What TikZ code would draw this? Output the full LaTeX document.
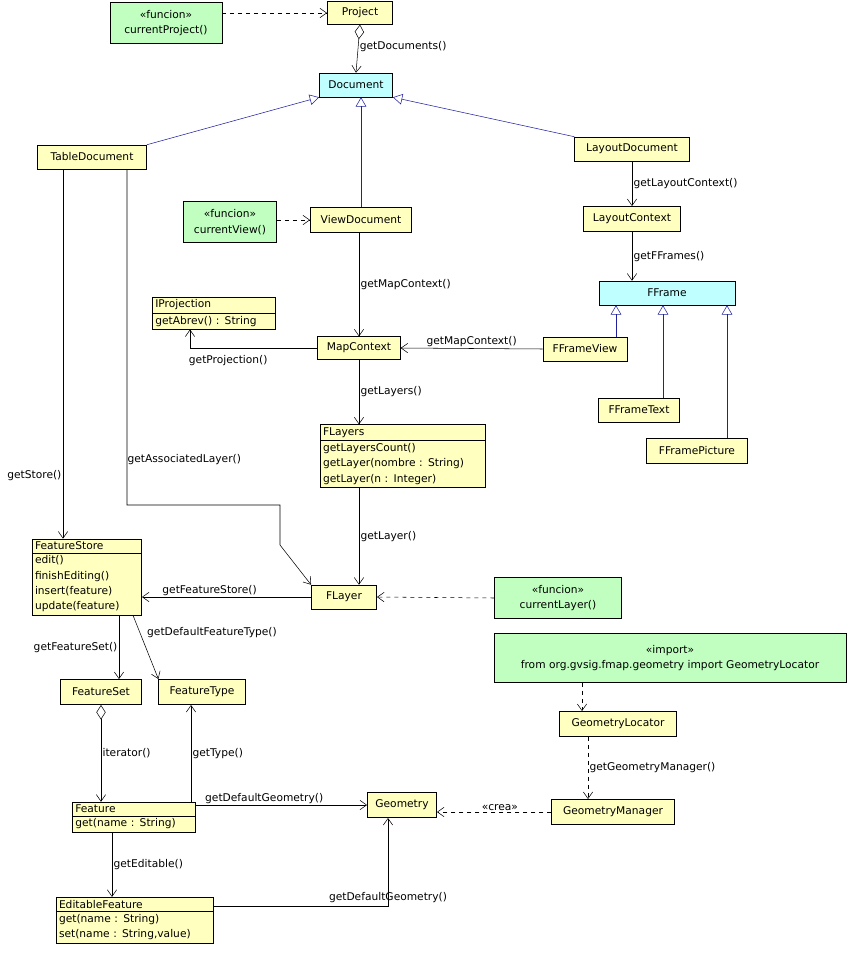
\documentclass[tikz,border=0pt]{standalone}
\usepackage{fontspec}
\setmainfont{DejaVu Sans}
\usetikzlibrary{arrows.meta, positioning, shapes.multipart}
\definecolor{clsyellow}{HTML}{FFFFC0}
\definecolor{fngreen}{HTML}{C0FFC0}
\definecolor{ifcyan}{HTML}{C0FFFF}
\definecolor{genblue}{HTML}{2020A0}

\begin{document}
\begin{tikzpicture}[
        x=0.75pt, y=-0.75pt,
        font=\fontsize{8}{11.5}\selectfont,
        cls/.style={
            rectangle,
            draw=black,
            fill=clsyellow,
            inner sep=2pt,
            align=center
        },
        iface/.style={cls, fill=ifcyan},
        func/.style={cls, fill=fngreen},
        multi/.style={
            cls,
            rectangle split,
            rectangle split parts=2,
            rectangle split part align={center,left},
            align=left
        },
        assoc/.style={-{Straight Barb[length=5pt,width=7pt]}},
        dep/.style={assoc, dashed},
        gen/.style={-{Triangle[open,length=7pt,width=8pt]}, draw=genblue},
        lbl/.style={fill=none, inner sep=1pt}
    ]

    \useasboundingbox (0,0) rectangle (850,956);

    % classes and functions
    \node (funcProject) [func, minimum width=84pt, minimum height=31pt] at (166,23) {<<funcion>>\\currentProject()};
    \node (project) [cls, minimum width=49pt, minimum height=17pt] at (360,13) {Project};
    \node (document) [iface, minimum width=55pt, minimum height=18pt] at (356,85) {Document};
    \node (tableDoc) [cls, minimum width=82pt, minimum height=18pt] at (92,157) {TableDocument};
    \node (layoutDoc) [cls, minimum width=86pt, minimum height=18pt] at (632,149) {LayoutDocument};
    \node (funcView) [func, minimum width=70pt, minimum height=31pt] at (230,222) {<<funcion>>\\currentView()};
    \node (viewDoc) [cls, minimum width=76pt, minimum height=19pt] at (361,220) {ViewDocument};
    \node (layoutCtx) [cls, minimum width=73pt, minimum height=19pt] at (632,219) {LayoutContext};
    \node (fframe) [iface, minimum width=102pt, minimum height=18pt] at (667,293) {FFrame};
    \node (iprojection) [multi, text width=88pt] at (214,313) {IProjection\nodepart{second}getAbrev() : String};
    \node (mapCtx) [cls, minimum width=62pt, minimum height=17pt] at (359,348) {MapContext};
    \node (fframeView) [cls, minimum width=63pt, minimum height=18pt] at (585,349) {FFrameView};
    \node (fframeText) [cls, minimum width=61pt, minimum height=18pt] at (639,410) {FFrameText};
    \node (fframePic) [cls, minimum width=76pt, minimum height=19pt] at (697,451) {FFramePicture};
    \node (flayers) [multi, text width=120pt] at (403,456) {FLayers\nodepart{second}getLayersCount()\\getLayer(nombre : String)\\getLayer(n : Integer)};
    \node (featureStore) [multi, text width=78pt] at (87,577) {FeatureStore\nodepart{second}edit()\\finishEditing()\\insert(feature)\\update(feature)};
    \node (flayer) [cls, minimum width=49pt, minimum height=18pt] at (344,597) {FLayer};
    \node (funcLayer) [func, minimum width=95pt, minimum height=31pt] at (558,598) {<<funcion>>\\currentLayer()};
    \node (importGeom) [func, minimum width=264pt, minimum height=37pt] at (670,658) {<<import>>\\from org.gvsig.fmap.geometry import GeometryLocator};
    \node (featureSet) [cls, minimum width=61pt, minimum height=19pt] at (101,692) {FeatureSet};
    \node (featureType) [cls, minimum width=65pt, minimum height=19pt] at (202,692) {FeatureType};
    \node (geomLocator) [cls, minimum width=88pt, minimum height=19pt] at (618,724) {GeometryLocator};
    \node (feature) [multi, text width=88pt] at (134,817) {Feature\nodepart{second}get(name : String)};
    \node (geometry) [cls, minimum width=52pt, minimum height=19pt] at (402,805) {Geometry};
    \node (geomManager) [cls, minimum width=92pt, minimum height=19pt] at (613,812) {GeometryManager};
    \node (editFeature) [multi, text width=114pt] at (135,920) {EditableFeature\nodepart{second}get(name : String)\\set(name : String,value)};

    % generalizations
    \draw [gen] (tableDoc.north east) -- (document.south west);
    \draw [gen] (viewDoc.north) -- (viewDoc.north |- document.south);
    \draw [gen] (layoutDoc.north west) -- (document.south east);
    \draw [gen] (fframeView.north -| 616,0) -- (fframe.south -| 616,0);
    \draw [gen] (fframeText.north -| 663,0) -- (fframe.south -| 663,0);
    \draw [gen] (fframePic.north -| 727,0) -- (fframe.south -| 727,0);

    % dependencies
    \draw [dep] (funcProject.east |- project) -- (project.west);
    \draw [dep] (funcView.east |- viewDoc) -- (viewDoc.west);
    \draw [dep] (funcLayer.west) -- (flayer.east);
    \draw [dep] (importGeom.south -| 582,0) -- (geomLocator.north -| 582,0);
    \draw [dep] (geomLocator.south -| 588,0) -- node[right, lbl] {getGeometryManager()} (geomManager.north -| 588,0);
    \draw [dep] (geomManager.west) -- node[above, lbl, pos=0.45] {<<crea>>} (geometry.east |- geomManager.west);

    % associations
    \draw [{Diamond[open,length=11pt,width=7pt]}-{Straight Barb[length=5pt,width=7pt]}] (project.south) -- node[right, lbl, pos=0.45] {getDocuments()} (document.north);
    \draw [assoc] (layoutDoc.south) -- node[right, lbl] {getLayoutContext()} (layoutCtx.north);
    \draw [assoc] (layoutCtx.south) -- node[right, lbl] {getFFrames()} (layoutCtx.south |- fframe.north);
    \draw [assoc] (viewDoc.south -| mapCtx.north) -- node[right, lbl] {getMapContext()} (mapCtx.north);
    \draw [assoc] (fframeView.west) -- node[above, lbl] {getMapContext()} (mapCtx.east);
    \draw [assoc] (mapCtx.west) -| node[below, lbl, pos=0.35, yshift=-4pt] {getProjection()} (iprojection.south -| 190,0);
    \draw [assoc] (mapCtx.south) -- node[right, lbl] {getLayers()} (mapCtx.south |- flayers.north);
    \draw [assoc] (flayers.south -| mapCtx.south) -- node[right, lbl] {getLayer()} (flayer.north -| mapCtx.south);
    \draw [assoc] (tableDoc.south -| 63,0) -- node[left, lbl, pos=0.83] {getStore()} (featureStore.north -| 63,0);
    \draw [assoc] (tableDoc.south -| 127,0) -- (127,505) -- (280,505) -- (280,545) -- (flayer.north west);
    \node (assocLbl) [lbl, right] at (126,460) {getAssociatedLayer()};
    \draw [assoc] (flayer.west) -- node[above, lbl, pos=0.6] {getFeatureStore()} (featureStore.east |- flayer.west);
    \draw [assoc] (featureStore.south -| 119,0) -- node[left, lbl, pos=0.5] {getFeatureSet()} (featureSet.north -| 119,0);
    \draw [assoc] (featureStore.south -| 133,0) -- (featureType.north west);
    \node (defTypeLbl) [lbl] at (212,633) {getDefaultFeatureType()};
    \draw [{Diamond[open,length=11pt,width=7pt]}-{Straight Barb[length=5pt,width=7pt]}] (featureSet.south) -- node[right, lbl] {iterator()} (feature.north -| featureSet.south);
    \draw [assoc] (feature.north -| 191,0) -- node[right, lbl] {getType()} (featureType.south -| 191,0);
    \draw [assoc] (feature.east |- geometry) -- node[above, lbl, pos=0.4] {getDefaultGeometry()} (geometry.west);
    \draw [assoc] (feature.south -| 112,0) -- node[right, lbl] {getEditable()} (editFeature.north -| 112,0);
    \draw [assoc] (editFeature.east |- 0,906) -| node[below, lbl, pos=0.6, yshift=-2pt] {getDefaultGeometry()} (geometry.south -| 388,0);

\end{tikzpicture}
\end{document}
